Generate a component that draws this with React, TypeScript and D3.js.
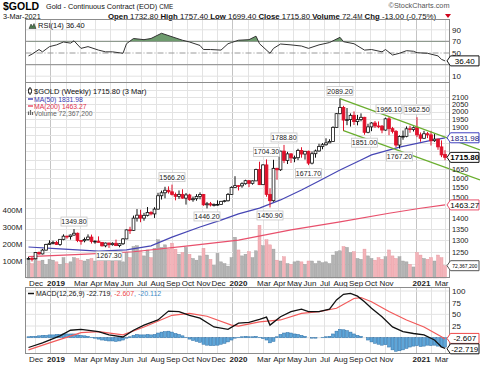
import * as d3 from "d3";

// weekly bars, Monday Nov 19 2018 .. Monday Mar 1 2021 (120 bars)
const weeks: Date[] = d3.timeMonday.range(new Date(2018, 10, 19), new Date(2021, 2, 2));

const opens = [1222,1223,1222,1248,1242,1258,1282,
  1287,1290,1282,1304,1318,1316,1323,1331,
  1299,1298,1303,1314,1295,1296,1291,1276,1288,
  1281,1287,1277,1285,1306,1346,1344,1400,
  1414,1400,1413,1427,1420,1443,1509,1524,1537,
  1529,1515,1506,1516,1497,1513,1489,1494,1505,
  1515,1464,1469,1463,1465,1466,1481,1484,1515,
  1552,1561,1560,1571,1587,1573,1586,1648,
  1566,1673,1516,1484,1654,1646,1752,1698,1736,
  1713,1714,1756,1735,1751,1683,1737,1753,1780,
  1790,1801,1810,1897,1986,2028,1944,1947,1975,
  1934,1947,1962,1866,1900,1925,1906,1905,
  1880,1952,1889,1872,1788,1840,1841,1888,1883,
  1895,1850,1829,1857,1850,1814,1824,1777,1732.8];
const highs = [1230,1230,1250,1252,1263,1285,1300,
  1298,1297,1305,1326,1320,1325,1349.8,1334,
  1300,1312,1326,1325,1300,1317,1292,1290,1290,
  1291,1303,1287,1310,1348,1360,1412,1443,
  1440,1425,1453,1433,1452,1524,1535,1555,1557,
  1566.2,1525,1536,1542,1523,1519,1505,1517,1526,
  1518,1478,1478,1471,1486,1483,1488,1523,1557,
  1611,1564,1578,1592,1590,1588,1652,1691,
  1677,1704.3,1547,1702,1657,1754,1788.8,1748,1740,
  1726,1766,1775,1753,1755,1750,1761,1796,1800,
  1829,1823,1904,1990,2089.2,2039,2024,1988,2001,
  1978,1988,1965,1920,1930,1938,1935,1912,
  1960,1966.1,1900,1880,1847,1877,1903,1908,1903,
  1962.5,1865,1875,1868,1875,1855,1827,1816,1757.4];
const lows = [1218,1211,1220,1238,1240,1256,1280,
  1282,1280,1276,1300,1307,1303,1320,1292,
  1281,1291,1298,1286,1285,1290,1273,1270,1267.3,
  1277,1275,1270,1280,1305,1328,1342,1384,
  1381,1388,1408,1413,1401,1440,1490,1496,1520,
  1510,1486,1493,1494,1465,1484,1479,1484,1491,
  1459,1446.2,1456,1456,1459,1463,1476,1480,1513,
  1549,1536,1550,1566,1553,1566,1585,1564,
  1565,1504,1450.9,1479,1592,1640,1683,1678,1684,
  1688,1700,1714,1703,1671.7,1676,1714,1749,1763,
  1784,1800,1808,1895,1982,1874,1911,1902,1912,
  1910,1936,1851,1860,1873,1893,1892,1860,
  1876,1848,1859,1775,1767.2,1820,1835,1863,1871,
  1836,1808,1826,1830,1785,1807,1760,1717,1699.4];
const closes = [1223,1222,1248,1242,1258,1282,1287,
  1290,1282,1304,1318,1316,1323,1331,1299,
  1298,1303,1314,1295,1296,1291,1276,1288,1281,
  1287,1277,1285,1306,1346,1344,1400,1414,
  1400,1413,1427,1420,1443,1509,1524,1537,1529,
  1515,1506,1516,1497,1513,1489,1494,1505,1515,
  1464,1469,1463,1465,1466,1481,1484,1515,1552,
  1561,1560,1571,1587,1573,1586,1648,1566,
  1673,1516,1484,1654,1646,1752,1698,1736,1713,
  1714,1756,1735,1751,1683,1737,1753,1780,1790,
  1801,1810,1897,1986,2028,1944,1947,1975,1934,
  1947,1962,1866,1900,1925,1906,1905,1880,
  1952,1889,1872,1788,1840,1841,1888,1883,1895,
  1850,1829,1857,1850,1814,1824,1777,1730,1715.8];
// millions
const volumes = [105,85,115,100,105,80,110,
  105,95,80,120,85,95,120,115,
  105,100,110,115,100,105,145,110,120,
  100,115,105,95,150,120,185,190,
  160,130,165,120,175,225,180,195,170,
  205,170,140,150,180,140,115,105,130,
  175,135,110,75,145,95,85,70,120,
  240,165,130,140,155,120,160,310,
  190,225,195,170,105,100,125,85,80,
  95,100,95,80,100,100,85,100,90,
  95,85,135,155,160,185,180,150,155,
  115,110,170,130,115,105,120,110,
  125,165,130,115,125,100,95,80,65,
  150,135,115,110,120,100,135,120,72.3672];

const ma50Weeks = [0,9,20,28,35,41,49,55,60,66,72,78,83,89,95,98,106,114,119];
const ma50Values = [1271,1263,1254,1259,1276,1314,1359,1391,1420,1448,1488,1538,1585,1645,1701,1730,1776,1812,1831.98];
const ma200Weeks = [0,15,30,45,60,75,89,103,112,119];
const ma200Values = [1231,1240,1251,1275,1301,1346,1383,1423,1447,1463.27];

const rsiWeeks = [0,1,3,4,6,8,10,12,13,15,17,20,22,24,27,28,30,33,35,38,41,44,46,49,50,52,55,57,58,60,63,65,66,69,70,72,75,78,80,83,86,89,90,93,96,98,101,102,104,106,108,110,111,114,117,118,119];
const rsiValues = [45,48,56,52,61,64,69,67,71,58,61,55,52,52,49.5,66,75,73,75,84,78,72,69,63,56,56,55,66,68,72,73,79,66,49.5,58,65.5,64,62,58,64,68,77,69.5,66,55,56,52,56,46.5,49.5,54,53,50.5,49.5,45,39,36.4];

const macdWeeks = [0,4,9,12,15,20,23,27,30,33,37,40,43,46,49,53,57,60,63,66,68,69,72,75,78,80,83,86,88,90,92,94,96,98,101,104,107,110,113,116,118,119];
const macdValues = [-21,-11,4,16,18,13,6,1.5,16,27,38,57,56,48,42,23,18,31,33,39,44,27,45,56,61,56,56,61,81,93,95,89,77,63,45,23,13,9,6,-5,-20,-22.719];
const signalWeeks = [0,6,15,20,27,33,41,46,51,58,60,66,72,78,83,88,93,95,98,103,108,113,118,119];
const signalValues = [-26,-11,11,13,6,23,48,52,46,27,25,34,38,52,56,63,84,86,77,56,38,23,2,-2.607];
const histValues = [2,3,3,4,5,5,6,6,7,7,8,8,8,8,6,5,4,3,1,-1,-3,-5,-6,-7,-7,-8,-7,-5,-1,2,
  5,7,6,6,7,6,7,10,12,13,14,12,9,7,4,1,-3,-6,-8,-10,-14,-16,-17,-17,-16,-14,-12,-9,-5,-1,
  1,2,3,2,2,3,1,-2,-5,-11,-8,2,7,10,11,10,8,7,5,3,0,-1,-1,0,1,2,3,8,14,18,
  17,15,12,8,5,3,0,-5,-9,-12,-14,-16,-15,-20,-26,-29,-28,-26,-23,-20,-18,-17,-19,-18,-16,-17,-16,-18,-20,-20.112];

// swing labels on the price chart
const swingWeeks = [13,23,41,51,68,69,73,80,89,96,103,106,111];
const swingValues = [1349.8,1267.3,1566.2,1446.2,1704.3,1450.9,1788.8,1671.7,2089.2,1851.0,1966.1,1767.2,1962.5];
const swingSides = ["high","low","high","low","high","low","high","low","high","low","high","low","high"];

// trend channel drawn on the chart
const channelUpperWeeks = [89, 129];
const channelUpper = [2089.2, 1759];
const channelLowerWeeks = [90, 129];
const channelLower = [1876, 1591];

const priceTicks = [1200,1250,1300,1350,1400,1450,1500,1550,1600,1650,1700,1750,1800,1850,1900,1950,2000,2050,2100,2150];
const rsiTicks = [10, 30, 50, 70, 90];
const macdTicks = [0, 25, 50, 75, 100];
const volumeTicks = [100, 200, 300, 400];
const monthLabelKeys = ["2018-12","2019-01","2019-03","2019-04","2019-05","2019-06","2019-07","2019-08","2019-09","2019-10","2019-11","2019-12","2020-01","2020-03","2020-04","2020-05","2020-06","2020-07","2020-08","2020-09","2020-10","2020-11","2021-01","2021-03"];
const monthLabelText = ["Dec","2019","Mar","Apr","May","Jun","Jul","Aug","Sep","Oct","Nov","Dec","2020","Mar","Apr","May","Jun","Jul","Aug","Sep","Oct","Nov","2021","Mar"];

const L = 25.5;
const R = 449.5;
const RSI_T = 19.5, RSI_B = 82.5;
const MAIN_T = 82.5, MAIN_B = 277.5;
const MACD_T = 287.5, MACD_B = 353.5;
const GRID = "#e3e3e3";
const BORDER = "#8c8c8c";
const FONT = "'Liberation Sans', Arial, sans-serif";

const x = d3.scaleTime().domain([weeks[0], weeks[weeks.length - 1]]).range([28.5, 445]);
const py = d3.scaleLog().domain([1250, 2100]).range([252, 97]);
const vy = d3.scaleLinear().domain([0, 400]).range([278, 210]);
const ry = d3.scaleLinear().domain([0, 100]).range([82, 24]);
const my = d3.scaleLinear().domain([0, 100]).range([337.7, 291]);

const weekX = (w: number) => x(d3.timeMonday.offset(weeks[0], w));
const monthTicks = d3.timeMonth.range(new Date(2018, 11, 1), new Date(2021, 2, 2));

function seriesPath(ws: number[], vs: number[], y: (v: number) => number) {
  return d3.line<number>().x((_, i) => weekX(ws[i])).y((d) => y(d))(vs) ?? "";
}

// value tags on the right axis; axis labels under them are left out
const priceTagYs = [py(1831.98), py(1715.8), py(1463.27), vy(72.3672)];
const macdTagYs = [my(-2.607), my(-22.719)];
const rsiTagYs = [ry(36.4)];
const freeOf = (ys: number[], y: number) => ys.every((t) => Math.abs(t - y) > 6.5);

function Tag({ y, text, stroke, color = "#000", bold = false, size = 8, fit }: { y: number; text: string; stroke: string; color?: string; bold?: boolean; size?: number; fit?: number }) {
  const tip = 447, x0 = 450.5, x1 = 479, h = 5;
  return (
    <g>
      <path d={`M${tip},${y}L${x0},${y - h}L${x1},${y - h}L${x1},${y + h}L${x0},${y + h}Z`} fill="#fff" stroke={stroke} strokeWidth={1} />
      <text x={(x0 + x1) / 2} y={y + size * 0.36} textAnchor="middle" fontSize={size} fill={color} fontWeight={bold ? "bold" : "normal"}
        textLength={fit} lengthAdjust={fit ? "spacingAndGlyphs" : undefined}>{text}</text>
    </g>
  );
}

function VGrid({ top, bottom }: { top: number; bottom: number }) {
  return (
    <g>
      {monthTicks.map((m, i) => (
        <line key={i} x1={Math.round(x(m)) + 0.5} x2={Math.round(x(m)) + 0.5} y1={top} y2={bottom}
          stroke={m.getMonth() === 0 ? "#c4c4c4" : GRID} strokeWidth={1} />
      ))}
    </g>
  );
}

function MonthAxis({ y }: { y: number }) {
  return (
    <g fontSize={8} fill="#222">
      {monthLabelKeys.map((k, i) => {
        const [yy, mm] = k.split("-").map(Number);
        const tx = x(new Date(yy, mm - 1, 1));
        const isYear = /^\d{4}$/.test(monthLabelText[i]);
        const last = i === monthLabelKeys.length - 1;
        return (
          <text key={k} x={last ? R - 1 : isYear ? tx + 6 : tx + 1.5} y={y} textAnchor={last ? "end" : "middle"} fontWeight={isYear ? "bold" : "normal"}>
            {monthLabelText[i]}
          </text>
        );
      })}
    </g>
  );
}

export default function App() {
  const up = closes.map((c, i) => (i === 0 ? c >= opens[0] : c >= closes[i - 1]));
  const rsiLine = seriesPath(rsiWeeks, rsiValues, ry);
  const rsiArea = d3.area<number>().x((_, i) => weekX(rsiWeeks[i])).y0(ry(70)).y1((d) => ry(d))(rsiValues) ?? "";

  return (
    <svg width={480} height={365} style={{ display: "block", background: "#fff" }} fontFamily={FONT}>
      <style>{"body{margin:0}"}</style>
      <defs>
        <clipPath id="over70"><rect x={L} y={RSI_T} width={R - L} height={ry(70) - RSI_T} /></clipPath>
      </defs>

      {/* header */}
      <text x={3} y={9.8} fontSize={10.5} fontWeight="bold" fill="#000">$GOLD</text>
      <text x={46} y={9.3} fontSize={7.3} fill="#111">Gold - Continuous Contract (EOD) <tspan fontSize={6.3}>CME</tspan></text>
      <text x={R} y={8} fontSize={7.3} fill="#555" textAnchor="end">©StockCharts.com</text>
      <text x={3} y={19} fontSize={7.3} fill="#111">3-Mar-2021</text>
      <text x={108} y={19} fontSize={7.8} fill="#111">
        <tspan fontWeight="bold">Open</tspan> 1732.80 <tspan fontWeight="bold">High</tspan> 1757.40 <tspan fontWeight="bold">Low</tspan> 1699.40 <tspan fontWeight="bold">Close</tspan> 1715.80 <tspan fontWeight="bold">Volume</tspan> 72.4<tspan fontSize={6.3}>M</tspan> <tspan fontWeight="bold">Chg</tspan> -13.00 (-0.75%)
      </text>
      <path d="M445,14L451,14L448,18Z" fill="#d0021b" />

      {/* RSI panel */}
      <VGrid top={RSI_T} bottom={RSI_B} />
      {rsiTicks.map((t) => (
        <line key={t} x1={L} x2={R} y1={ry(t)} y2={ry(t)}
          stroke={t === 70 || t === 30 || t === 50 ? "#9a9a9a" : GRID}
          strokeWidth={t === 70 || t === 30 ? 1.3 : 1}
          strokeDasharray={t === 50 ? "6 2 1 2" : undefined} />
      ))}
      <path d={rsiArea} fill="#6e9b6e" clipPath="url(#over70)" />
      <path d={rsiLine} fill="none" stroke="#333" strokeWidth={1} />
      <rect x={L} y={RSI_T} width={R - L} height={RSI_B - RSI_T} fill="none" stroke={BORDER} />
      <path d="M29,28.5L31,24L32.5,26.5L34,23.5L36,28.5Z" fill="#4d7a4d" stroke="#222" strokeWidth={0.5} />
      <text x={38} y={28} fontSize={7.5} fill="#111">RSI(14) 36.40</text>
      {rsiTicks.filter((t) => freeOf(rsiTagYs, ry(t))).map((t) => (
        <text key={t} x={452} y={ry(t) + 3} fontSize={8} fill="#222">{t}</text>
      ))}

      {/* main price panel */}
      <VGrid top={MAIN_T} bottom={MAIN_B} />
      {priceTicks.map((t) => (
        <line key={t} x1={L} x2={R} y1={Math.round(py(t)) + 0.5} y2={Math.round(py(t)) + 0.5} stroke={GRID} />
      ))}
      {volumes.map((v, i) => (
        <rect key={i} x={x(weeks[i]) - 1.5} y={vy(v)} width={3} height={vy(0) - vy(v)}
          fill={up[i] ? "#b3b3b3" : "#f3b3b9"} stroke={up[i] ? "#999" : "#e5949c"} strokeWidth={0.4} />
      ))}
      <path d={seriesPath(ma200Weeks, ma200Values, py)} fill="none" stroke="#e8506c" strokeWidth={1.2} />
      <path d={seriesPath(ma50Weeks, ma50Values, py)} fill="none" stroke="#4646b4" strokeWidth={1.2} />
      {weeks.map((d, i) => {
        const cx = x(d);
        const color = up[i] ? "#111" : "#e0102a";
        const yO = py(opens[i]);
        const yC = py(closes[i]);
        const top = Math.min(yO, yC);
        const h = Math.max(0.8, Math.abs(yO - yC));
        const hollow = closes[i] >= opens[i];
        return (
          <g key={i}>
            <line x1={cx} x2={cx} y1={py(highs[i])} y2={py(lows[i])} stroke={color} strokeWidth={1} />
            <rect x={cx - 1.4} y={top} width={2.8} height={h} fill={hollow ? "#fff" : color} stroke={color} strokeWidth={0.8} />
          </g>
        );
      })}
      <path d={seriesPath(channelUpperWeeks, channelUpper, py)} fill="none" stroke="#6aae2e" strokeWidth={1.4} />
      <path d={seriesPath(channelLowerWeeks, channelLower, py)} fill="none" stroke="#6aae2e" strokeWidth={1.4} />
      {swingWeeks.map((w, i) => {
        const cx = weekX(w);
        const cy = swingSides[i] === "high" ? py(swingValues[i]) - 7.5 : py(swingValues[i]) + 8;
        return (
          <g key={w}>
            <rect x={cx - 13} y={cy - 4.5} width={26} height={9} fill="#fff" stroke="#c6c6c6" strokeWidth={0.8} />
            <text x={cx} y={cy + 2.6} textAnchor="middle" fontSize={7} fill="#222">{swingValues[i].toFixed(2)}</text>
          </g>
        );
      })}
      <rect x={L} y={MAIN_T} width={R - L} height={MAIN_B - MAIN_T} fill="none" stroke={BORDER} />
      {/* legend */}
      <line x1={30} x2={30} y1={87} y2={95} stroke="#111" />
      <rect x={28.5} y={89} width={3} height={4} fill="#fff" stroke="#111" strokeWidth={0.8} />
      <text x={34} y={94} fontSize={7.5} fill="#111">$GOLD (Weekly) 1715.80 (3 Mar)</text>
      <line x1={28} x2={33} y1={99} y2={99} stroke="#4646b4" strokeWidth={1.5} />
      <text x={34} y={101.5} fontSize={6.8} fill="#3a3ab0">MA(50) 1831.98</text>
      <line x1={28} x2={33} y1={106} y2={106} stroke="#e8506c" strokeWidth={1.5} />
      <text x={34} y={108.5} fontSize={6.8} fill="#e0304c">MA(200) 1463.27</text>
      <path d="M28.5,115V111.5M30.5,115V110M32.5,115V112" stroke="#666" strokeWidth={1.2} />
      <text x={34} y={115.5} fontSize={6.8} fill="#666">Volume 72,367,200</text>
      {/* axes */}
      {priceTicks.filter((t) => t <= 2100 && freeOf(priceTagYs, py(t))).map((t) => (
        <text key={t} x={452} y={py(t) + 2.6} fontSize={7.4} fill="#222">{t}</text>
      ))}
      {volumeTicks.map((t) => (
        <text key={t} x={22.5} y={vy(t) + 3} fontSize={8} fill="#222" textAnchor="end">{t}M</text>
      ))}
      <Tag y={py(1831.98)} text="1831.98" stroke="#4040c0" color="#202080" />
      <Tag y={py(1715.8)} text="1715.80" stroke="#111" bold />
      <Tag y={py(1463.27)} text="1463.27" stroke="#e8506c" />
      <Tag y={vy(72.3672)} text="72,367,200" stroke="#555" size={5.5} fit={25} />
      <Tag y={ry(36.4)} text="36.40" stroke="#111" />

      <MonthAxis y={286} />

      {/* MACD panel */}
      <VGrid top={MACD_T} bottom={MACD_B} />
      {macdTicks.map((t) => (
        <line key={t} x1={L} x2={R} y1={my(t)} y2={my(t)} stroke={GRID} />
      ))}
      {histValues.map((v, i) => (
        <rect key={i} x={x(weeks[i]) - 1.5} y={Math.min(my(v), my(0))} width={3} height={Math.abs(my(v) - my(0))}
          fill="#5fa6d8" stroke="#2c6ea6" strokeWidth={0.5} />
      ))}
      <path d={seriesPath(signalWeeks, signalValues, my)} fill="none" stroke="#f25a5a" strokeWidth={1.2} />
      <path d={seriesPath(macdWeeks, macdValues, my)} fill="none" stroke="#111" strokeWidth={1.3} />
      <rect x={L} y={MACD_T} width={R - L} height={MACD_B - MACD_T} fill="none" stroke={BORDER} />
      <line x1={28} x2={34} y1={293.5} y2={293.5} stroke="#111" strokeWidth={1.5} />
      <text x={36} y={296} fontSize={7} fill="#111">MACD(12,26,9) -22.719<tspan fill="#f04848">, -2.607</tspan><tspan fill="#3d8cc8">, -20.112</tspan></text>
      {macdTicks.filter((t) => freeOf(macdTagYs, my(t))).map((t) => (
        <text key={t} x={452} y={my(t) + 3} fontSize={8} fill="#222">{t}</text>
      ))}
      <Tag y={my(-2.607) - 0.5} text="-2.607" stroke="#f04848" />
      <Tag y={my(-22.719) + 0.5} text="-22.719" stroke="#111" />

      <MonthAxis y={362} />
    </svg>
  );
}
